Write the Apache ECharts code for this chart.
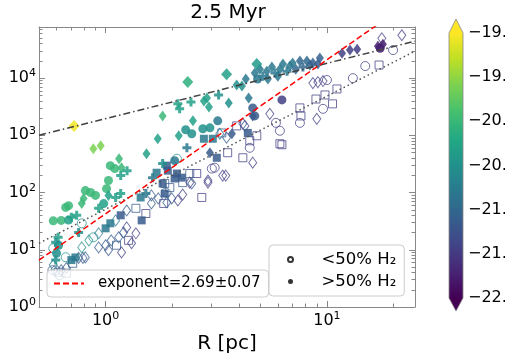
<!DOCTYPE html>
<html>
<head>
<meta charset="utf-8">
<script src="https://cdn.jsdelivr.net/npm/echarts@6/dist/echarts.min.js"></script>
<style>
  html, body { margin: 0; padding: 0; background: #fff; }
  #main { width: 505px; height: 357px; }
</style>
</head>
<body>
<div id="main"></div>
<script>
// [R (pc), M, colour value]
var circleFilled = [
    [1.05, 295, -20.0], [1.10, 262, -20.0], [1.03, 162, -20.0], [1.01, 117, -20.0],
    [0.81, 108, -20.0], [0.90, 89, -20.0], [0.855, 100, -20.0], [0.68, 59, -20.0],
    [0.66, 55, -20.0], [0.63, 32.6, -20.0], [0.58, 32, -20.0], [0.98, 64, -20.3],
    [0.68, 33, -20.3], [0.613, 12, -20.5], [0.60, 8.7, -20.5], [2.45, 1065, -20.5],
    [2.75, 1300, -20.5], [2.96, 1350, -20.5], [3.21, 1790, -20.8], [4.72, 2180, -21.15],
    [2.05, 360, -20.8], [2.30, 1250, -20.5], [4.62, 3010, -21.15], [6.26, 4150, -21.45],
    [4.86, 9600, -20.8], [17.4, 33200, -21.75]
];
var circleOpen = [
    [0.58, 10.6, -20.5], [0.66, 7.4, -20.5], [0.595, 4.4, -21.15], [0.88, 16.5, -20.5],
    [0.78, 29, -20.5], [1.87, 100, -21.15], [0.575, 4.4, -21.15], [0.62, 3.6, -21.15],
    [5.88, 1650, -21.45], [4.48, 605, -21.45], [2.10, 390, -20.5], [3.02, 262, -21.45],
    [3.11, 272, -21.45], [19.9, 30800, -21.45], [14.9, 16200, -21.45], [10.0, 9240, -21.45],
    [13.1, 9960, -21.45], [9.6, 2900, -21.45], [7.55, 1650, -21.45], [6.13, 1200, -21.45]
];
var squareFilled = [
    [0.73, 7.35, -20.8], [0.70, 6.6, -20.8], [1.0, 23.7, -20.8], [1.05, 29, -20.8],
    [1.17, 40, -21.15], [1.455, 32.6, -21.15], [1.44, 82, -20.8], [2.78, 870, -20.8],
    [3.05, 870, -20.8], [4.39, 1100, -21.15], [3.18, 405, -21.15], [2.21, 182, -21.15],
    [1.89, 295, -21.15], [1.91, 241, -21.15], [1.70, 222, -20.8], [1.81, 144, -21.15],
    [1.85, 96, -21.15], [2.05, 176, -21.15], [2.10, 215, -21.15]
];
var squareOpen = [
    [0.61, 4.05, -21.15], [1.37, 53, -21.15], [1.52, 43, -21.45], [1.83, 64.5, -21.45],
    [1.12, 12, -21.15], [1.27, 14.6, -21.45], [0.665, 3.9, -21.15], [0.71, 5.8, -21.15],
    [3.35, 1100, -21.15], [3.91, 1460, -21.45], [4.48, 802, -21.45], [4.82, 980, -21.45],
    [6.13, 712, -21.45], [3.56, 496, -21.45], [4.17, 405, -21.45], [2.58, 215, -21.45],
    [2.40, 215, -21.15], [1.85, 144, -21.15], [1.95, 122, -21.15], [2.23, 149, -21.15],
    [2.72, 82, -21.45], [17.2, 16900, -21.45], [11.1, 6450, -21.45], [9.8, 5070, -21.45],
    [8.92, 4300, -21.45], [10.6, 3540, -21.45], [7.55, 3010, -21.45], [7.63, 2180, -21.45],
    [6.26, 684, -21.45]
];
var diamondFilled = [
    [0.88, 580, -19.6], [0.95, 656, -19.6], [1.15, 390, -20.0], [1.18, 272, -20.0],
    [0.78, 64, -20.0], [0.795, 79, -20.0], [1.03, 89, -20.3], [3.91, 7560, -20.5],
    [4.13, 7260, -20.5], [1.81, 2180, -20.0], [2.78, 3980, -20.3], [2.87, 4480, -20.3],
    [2.93, 3130, -20.3], [3.6, 3670, -20.5], [4.43, 4480, -20.8], [2.48, 1790, -20.3],
    [2.14, 980, -20.3], [3.72, 1065, -21.15], [1.72, 870, -20.3], [1.53, 477, -20.3],
    [4.62, 2180, -21.15], [2.96, 496, -21.15],
    [4.72, 12200, -20.8], [4.98, 14300, -20.8], [5.35, 13200, -20.8], [5.64, 15600, -20.8],
    [6.13, 14300, -20.8], [6.33, 17600, -20.8], [6.80, 16200, -20.8], [7.0, 18300, -20.8],
    [7.23, 14300, -21.0], [7.55, 19800, -21.0], [8.12, 19800, -21.0], [8.38, 16900, -21.0],
    [8.64, 18300, -21.1], [9.1, 17600, -21.1], [9.29, 22300, -21.1], [5.41, 9600, -20.8],
    [6.0, 10800, -20.8], [4.30, 9600, -20.8],
    [11.7, 27200, -21.45], [12.7, 30800, -21.45], [13.7, 32000, -21.45],
    [17.0, 36000, -21.75], [17.9, 39100, -21.75]
];
var diamondBig = [
    [0.72, 1460, -19.05], [2.35, 8500, -20.1], [3.52, 11700, -20.3], [4.82, 17600, -20.4]
];
var diamondOpen = [
    [0.58, 5.4, -20.8], [0.63, 4.4, -21.15], [0.665, 4.8, -21.15], [0.755, 7.2, -21.15],
    [0.81, 7.35, -21.15], [0.78, 11, -20.5], [0.84, 14.6, -20.5], [0.93, 19.4, -20.8],
    [1.11, 32.6, -20.8], [1.245, 48.6, -21.15], [1.61, 64.5, -21.15], [0.93, 11, -21.15],
    [1.0, 12, -21.15], [1.03, 9.8, -21.15], [1.06, 14.6, -21.15], [1.145, 16.5, -21.15],
    [1.205, 20, -21.15], [1.245, 24.6, -21.45], [1.37, 19.4, -21.45], [1.18, 9, -21.45],
    [1.31, 13, -21.45], [1.61, 89, -21.15], [1.73, 79, -21.15], [0.79, 7.2, -21.15],
    [3.28, 1065, -20.8], [4.17, 1590, -21.15], [3.52, 905, -21.15], [4.26, 1460, -21.45],
    [5.52, 2370, -21.45], [4.62, 332, -21.45], [3.38, 198, -21.45], [2.90, 162, -21.45],
    [2.45, 144, -21.15], [1.89, 67, -21.15], [1.99, 79, -21.15], [2.12, 72.6, -21.45],
    [2.23, 92, -21.45], [2.40, 149, -21.45], [2.90, 149, -21.45], [3.49, 198, -21.45],
    [17.7, 49500, -21.45], [21.8, 56000, -21.45], [8.64, 8170, -21.45], [9.1, 8500, -21.45],
    [9.6, 8870, -21.45], [9.0, 1940, -21.45]
];
var plusFilled = [
    [1.25, 241, -20.3], [1.17, 198, -20.3], [1.11, 82, -20.3], [1.17, 96, -20.3],
    [0.93, 53, -20.3], [0.74, 40, -20.3], [0.70, 37, -20.3], [0.61, 16.5, -20.3],
    [0.595, 13.5, -20.5], [0.595, 6.6, -20.5], [0.755, 20.1, -20.5], [1.52, 96, -20.8],
    [2.12, 3540, -20.3], [2.16, 2900, -20.3], [2.43, 3820, -20.3], [3.24, 5070, -20.5],
    [1.81, 320, -20.5], [2.33, 605, -20.8], [1.63, 182, -20.8], [5.13, 10800, -20.8],
    [5.82, 12200, -20.8], [6.60, 13200, -20.8], [7.79, 15600, -21.0]
];

// fit lines, end points
var lineR = [0.5, 25];
var dashDotM = [1000, 44000];
var dottedM = [13, 29500];
var powerLawM = [6.6, 245000];

var xMajor = [1, 10];
var xMinor = [0.5, 0.6, 0.7, 0.8, 0.9, 2, 3, 4, 5, 6, 7, 8, 9, 20];
var yMajor = [1, 10, 100, 1000, 10000];
var yMinor = [2, 3, 4, 5, 6, 7, 8, 9, 20, 30, 40, 50, 60, 70, 80, 90,
    200, 300, 400, 500, 600, 700, 800, 900, 2000, 3000, 4000, 5000, 6000, 7000, 8000, 9000,
    20000, 30000, 40000, 50000, 60000, 70000];
var cbTicks = [-22, -21.5, -21, -20.5, -20, -19.5, -19];
var CB_MIN = -22, CB_MAX = -19;

var VIRIDIS = ['#440154', '#482475', '#414487', '#355f8d', '#2a788e', '#21918c',
    '#22a884', '#44bf70', '#7ad151', '#bddf26', '#fde725'];

function hexRgb(h) {
    return [parseInt(h.substr(1, 2), 16), parseInt(h.substr(3, 2), 16), parseInt(h.substr(5, 2), 16)];
}
function viridis(v) {
    var f = (v - CB_MIN) / (CB_MAX - CB_MIN);
    f = Math.max(0, Math.min(1, f)) * 10;
    var i = Math.min(9, Math.floor(f)), t = f - i;
    var a = hexRgb(VIRIDIS[i]), b = hexRgb(VIRIDIS[i + 1]);
    return 'rgb(' + [0, 1, 2].map(function (k) { return Math.round(a[k] + (b[k] - a[k]) * t); }).join(',') + ')';
}

var FONT = 'DejaVu Sans';
var SPINE = '#888';
var PLUS = 'path://M3,0H6V3H9V6H6V9H3V6H0V3H3Z';

function scatter(name, pts, symbol, size, filled) {
    return {
        type: 'scatter', name: name, symbol: symbol, symbolSize: size, z: 2,
        data: pts.map(function (p) {
            return {
                value: [p[0], p[1]],
                itemStyle: filled
                    ? { color: viridis(p[2]), opacity: 0.85 }
                    : { color: 'rgba(0,0,0,0)', borderColor: viridis(p[2]), borderWidth: 1, opacity: 0.75 }
            };
        })
    };
}

function fitLine(name, m, color, type) {
    return {
        type: 'line', name: name, symbol: 'none', z: 4, silent: true,
        data: [[lineR[0], m[0]], [lineR[1], m[1]]],
        itemStyle: { color: color },
        lineStyle: { color: color, width: 1.5, type: type }
    };
}

function powLabel(v) {
    return '{b|10}{s|' + Math.round(Math.log10(v)) + '}';
}
var powRich = {
    b: { fontSize: 16, fontFamily: FONT, color: '#000', lineHeight: 20 },
    s: { fontSize: 11, fontFamily: FONT, color: '#000', verticalAlign: 'top', lineHeight: 13 }
};

function logAxis(dim, pos, major, opts) {
    var ax = {
        type: 'log', logBase: 10, gridIndex: 0, position: pos,
        min: dim === 'x' ? 0.5 : 1, max: dim === 'x' ? 25 : 78000,
        splitLine: { show: false },
        axisLine: { show: major, onZero: false, lineStyle: { color: SPINE, width: 1 } },
        axisTick: {
            inside: true, length: major ? 6 : 3.5,
            customValues: major ? (dim === 'x' ? xMajor : yMajor) : (dim === 'x' ? xMinor : yMinor),
            lineStyle: { color: SPINE, width: 1 }
        },
        axisLabel: { show: false }
    };
    return Object.assign(ax, opts || {});
}

var chart = echarts.init(document.getElementById('main'));

var option = {
    animation: false,
    backgroundColor: '#fff',
    textStyle: { fontFamily: FONT },
    title: {
        text: '2.5 Myr', left: 228, top: 3, textAlign: 'center', padding: 0,
        textStyle: { fontFamily: FONT, fontSize: 20, fontWeight: 'normal', color: '#000' }
    },
    grid: [
        { left: 39, right: 90, top: 27, bottom: 50, outerBoundsMode: 'none', containLabel: false },
        { left: 449, top: 33, width: 14, height: 265, outerBoundsMode: 'none', containLabel: false }
    ],
    xAxis: [
        logAxis('x', 'bottom', true, {
            axisLabel: {
                show: true, customValues: xMajor, margin: 4,
                formatter: powLabel, rich: powRich
            },
            name: 'R [pc]', nameLocation: 'middle', nameGap: 21,
            nameTextStyle: { fontFamily: FONT, fontSize: 20, color: '#000' }
        }),
        logAxis('x', 'bottom', false),
        logAxis('x', 'top', true),
        logAxis('x', 'top', false),
        { type: 'value', gridIndex: 1, min: 0, max: 1, show: false }
    ],
    yAxis: [
        logAxis('y', 'left', true, {
            axisLabel: {
                show: true, customValues: yMajor, margin: 3,
                formatter: powLabel, rich: powRich
            },
            name: 'M [M\u2299]', nameLocation: 'middle', nameGap: 38, nameRotate: 90,
            nameTextStyle: { fontFamily: FONT, fontSize: 20, color: '#000' }
        }),
        logAxis('y', 'left', false),
        logAxis('y', 'right', true),
        logAxis('y', 'right', false),
        {
            type: 'value', gridIndex: 1, position: 'right', min: CB_MIN, max: CB_MAX,
            splitLine: { show: false }, axisLine: { show: false },
            axisTick: { show: true, length: 4, customValues: cbTicks, lineStyle: { color: '#333' } },
            axisLabel: {
                customValues: cbTicks, margin: 5, fontFamily: FONT, fontSize: 16, color: '#000',
                formatter: function (v) { return v.toFixed(1).replace('-', '\u2212'); }
            }
        }
    ],
    legend: [
        {
            data: ['exponent=2.69\u00b10.07'], left: 47, top: 270, padding: [6, 8, 6, 6],
            itemWidth: 30, itemHeight: 14, selectedMode: false,
            itemStyle: { opacity: 0 },
            backgroundColor: 'rgba(255,255,255,0.8)', borderColor: '#ccc', borderWidth: 1, borderRadius: 4,
            textStyle: { fontFamily: FONT, fontSize: 15, color: '#000', padding: [0, 0, 0, 9] }
        },
        {
            data: ['<50% H\u2082', '>50% H\u2082'], left: 269, top: 245, orient: 'vertical',
            padding: [6, 8, 6, 18], itemGap: 5, itemWidth: 30, itemHeight: 5, icon: 'circle',
            selectedMode: false,
            backgroundColor: 'rgba(255,255,255,0.8)', borderColor: '#ccc', borderWidth: 1, borderRadius: 4,
            textStyle: { fontFamily: FONT, fontSize: 16.5, color: '#000', padding: [0, 0, 0, 11], lineHeight: 17 }
        }
    ],
    series: [
        scatter('circleOpen', circleOpen, 'circle', 9, false),
        scatter('squareOpen', squareOpen, 'rect', 8, false),
        scatter('diamondOpen', diamondOpen, 'diamond', [8, 11], false),
        scatter('circleFilled', circleFilled, 'circle', 9, true),
        scatter('squareFilled', squareFilled, 'rect', 8, true),
        scatter('diamondFilled', diamondFilled, 'diamond', [8, 11], true),
        scatter('diamondBig', diamondBig, 'diamond', [11, 12], true),
        scatter('plusFilled', plusFilled, PLUS, 9, true),
        fitLine('dashdot', dashDotM, '#404040', [7, 3, 1.5, 3]),
        fitLine('dotted', dottedM, '#505050', [1.5, 3]),
        fitLine('exponent=2.69\u00b10.07', powerLawM, '#ff0000', [6, 3]),
        {
            type: 'scatter', name: '<50% H\u2082', data: [], symbol: 'circle',
            itemStyle: { color: '#fff', borderColor: '#000', borderWidth: 0.7 }
        },
        {
            type: 'scatter', name: '>50% H\u2082', data: [], symbol: 'circle',
            itemStyle: { color: '#000' }
        },
        {
            type: 'custom', xAxisIndex: 4, yAxisIndex: 4, silent: true, data: [[0, CB_MIN]],
            renderItem: function (params, api) {
                var tl = api.coord([0, CB_MAX]), br = api.coord([1, CB_MIN]);
                var x0 = tl[0], x1 = br[0], y0 = tl[1], y1 = br[1], xm = (x0 + x1) / 2;
                var stops = VIRIDIS.slice().reverse().map(function (c, i) { return { offset: i / 10, color: c }; });
                return {
                    type: 'group',
                    children: [
                        { type: 'rect', shape: { x: x0, y: y0, width: x1 - x0, height: y1 - y0 },
                          style: { fill: new echarts.graphic.LinearGradient(0, 0, 0, 1, stops) } },
                        { type: 'polygon', shape: { points: [[x0, y0], [x1, y0], [xm, y0 - 14]] },
                          style: { fill: VIRIDIS[10] } },
                        { type: 'polygon', shape: { points: [[x0, y1], [x1, y1], [xm, y1 + 13]] },
                          style: { fill: VIRIDIS[0] } },
                        { type: 'polygon', shape: { points: [[x0, y0], [xm, y0 - 14], [x1, y0], [x1, y1], [xm, y1 + 13], [x0, y1]] },
                          style: { fill: 'none', stroke: SPINE, lineWidth: 0.8 } }
                    ]
                };
            }
        }
    ]
};

chart.setOption(option);
</script>
</body>
</html>
